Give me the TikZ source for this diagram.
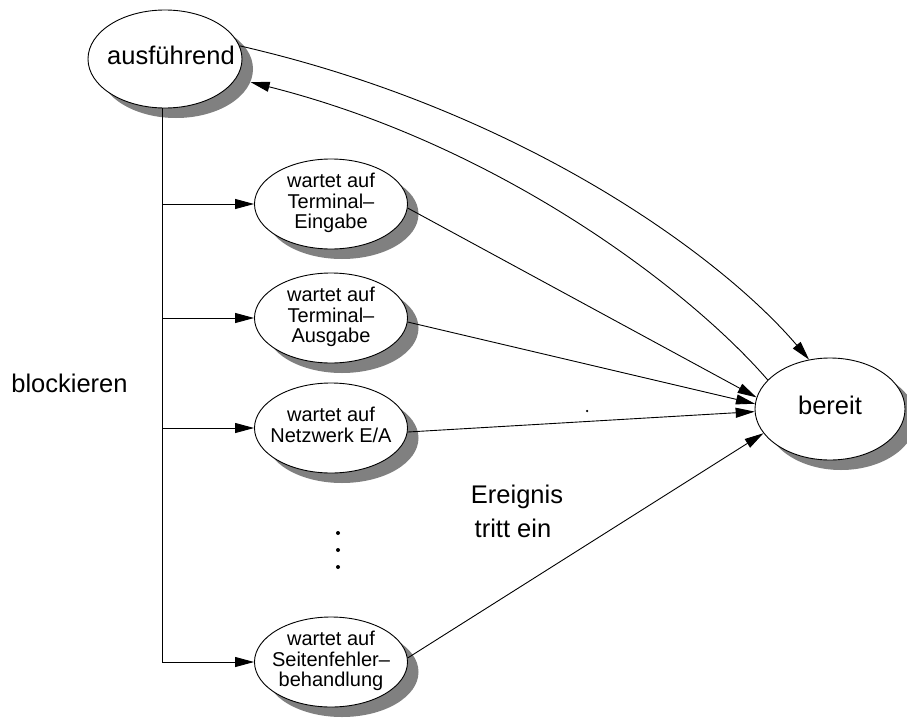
\documentclass[tikz,border=0pt]{standalone}
\usepackage{fontspec}
\setmainfont{Liberation Sans}
\usetikzlibrary{shapes.geometric,shadows,arrows.meta}
\definecolor{shadowgray}{RGB}{128,128,128}
% centred lines of a fixed-size ellipse, not widening the shape
\newcommand{\stacklines}[1]{\makebox[0pt]{\begin{tabular}{@{}c@{}}#1\end{tabular}}}
\tikzset{
  state/.style={ellipse, draw, fill=white, line width=0.9pt, inner sep=0pt,
    general shadow={fill=shadowgray, shadow xshift=11pt, shadow yshift=-10pt}},
  bigstate/.style={state, minimum width=154pt, minimum height=98pt,
    font=\fontsize{25.5}{28}\selectfont},
  waitstate/.style={state, minimum width=153pt, minimum height=90pt,
    font=\fontsize{20}{20}\selectfont},
  conn/.style={line width=0.9pt},
  arr/.style={conn, -{Triangle[length=19pt,width=10pt]}},
  label/.style={font=\fontsize{25.5}{28}\selectfont, inner sep=0pt, anchor=base},
  dot/.style={circle, fill, inner sep=0pt, minimum size=4pt},
}
\begin{document}
\begin{tikzpicture}[x=1pt, y=-1pt]
  \useasboundingbox (0,0) rectangle (907,725);

  % states
  \node[bigstate] (run) at (165,59) {\stacklines{\hspace*{12pt}ausführend}};
  \node[bigstate, minimum width=150pt, minimum height=102pt] (ready) at (830,409) {\stacklines{bereit}};
  \node[waitstate] (w1) at (331,204) {\stacklines{wartet auf\\Terminal–\\Eingabe}};
  \node[waitstate] (w2) at (331,318) {\stacklines{wartet auf\\Terminal–\\Ausgabe}};
  \node[waitstate] (w3) at (331,428) {\stacklines{wartet auf\\Netzwerk E/A}};
  \node[waitstate] (w4) at (331,662) {\stacklines{wartet auf\\Seitenfehler–\\behandlung}};

  % blocking: trunk with branches
  \coordinate (trunk) at (162,108);
  \draw[conn] (trunk) -- (trunk |- w4.west);
  \foreach \w in {w1,w2,w3,w4}
    \draw[arr] (trunk |- \w.west) -- (\w.west);

  % dispatch and preemption
  \draw[arr] (run.10) .. controls (520,110) and (720,255) .. (ready.113);
  \draw[arr] (ready.155) .. controls (690,290) and (500,145) .. ([shift={(11,10)}]run.-10);

  % event occurs
  \draw[arr] (w1.-3) -- (ready.171);
  \draw[arr] (w2.-3) -- (ready.176);
  \draw[arr] (w3.-3) -- (ready.182);
  \draw[arr] (w4.3) -- (ready.200);

  % labels
  \node[label] (block) at (69.5,392) {blockieren};
  \node[label] (ev1) at (517,503) {Ereignis};
  \node[label] (ev2) at (513,537) {tritt ein};

  % ellipsis between the waiting states
  \node[dot] (d1) at (338,533) {};
  \node[dot] (d2) at (338,550) {};
  \node[dot] (d3) at (338,567) {};
  \node[dot, minimum size=2.5pt] (spot) at (587,411) {};
\end{tikzpicture}
\end{document}
